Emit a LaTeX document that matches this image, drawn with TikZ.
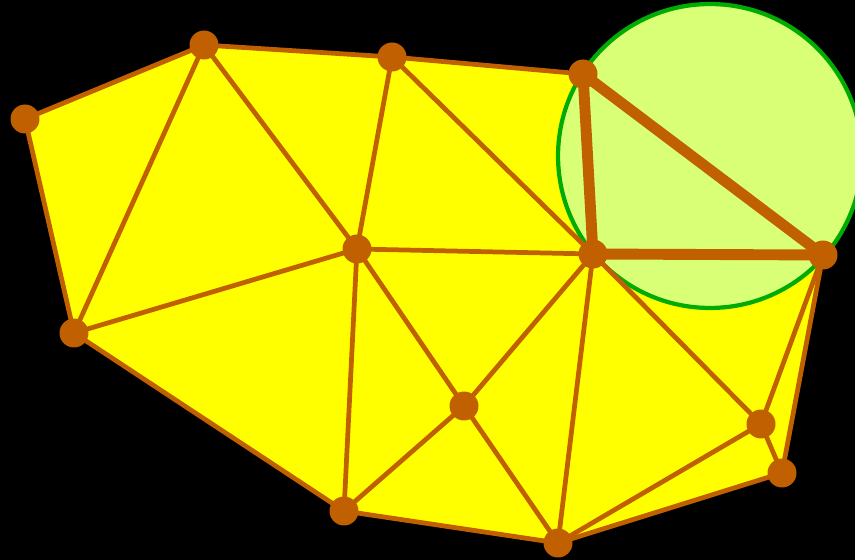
\documentclass[tikz,border=0pt]{standalone}
\usepackage{tikz}
\usepackage{xcolor}
\definecolor{edgebrown}{RGB}{192,96,0}
\definecolor{hullyellow}{RGB}{255,255,0}
\definecolor{circfill}{RGB}{217,255,119}
\definecolor{circline}{RGB}{0,172,0}

\begin{document}
\begin{tikzpicture}[x=0.02cm,y=-0.02cm,
edge/.style={draw=edgebrown,line width=2.7pt,line cap=round},
hot/.style={draw=edgebrown,line width=6.2pt,line cap=round},
dot/.style={circle,fill=edgebrown,inner sep=0pt,minimum size=0.58cm}
]
\fill[black] (0,0) rectangle (855,560);
\useasboundingbox (0,0) rectangle (855,560);
% points of the triangulation
\coordinate (pa) at (25,119);
\coordinate (pb) at (204,45);
\coordinate (pc) at (392,57);
\coordinate (pd) at (583,74);
\coordinate (pe) at (357,249);
\coordinate (pf) at (593,254);
\coordinate (pg) at (823,255);
\coordinate (ph) at (74,333);
\coordinate (pi) at (464,406);
\coordinate (pj) at (761,424);
\coordinate (pk) at (782,473);
\coordinate (pl) at (344,511);
\coordinate (pm) at (558,543);
\coordinate (cc) at (710,156);
% hull
\fill[hullyellow] (pa) -- (pb) -- (pc) -- (pd) -- (pg) -- (pk) -- (pm) -- (pl) -- (ph) -- cycle;
% circumcircle
\draw[circline,fill=circfill,line width=2.4pt] (cc) circle[radius=3.04cm];
% edges
\foreach \u/\v in {pa/pb,pb/pc,pc/pd,pa/ph,ph/pl,pl/pm,pm/pk,pk/pg,pb/ph,pb/pe,pc/pe,pc/pf,
  pe/ph,pe/pf,pe/pl,pe/pi,pi/pf,pi/pl,pi/pm,pf/pm,pf/pj,pj/pm,pj/pg,pj/pk}
  \draw[edge] (\u) -- (\v);
\draw[hot] (pd) -- (pf);
\draw[hot] (pf) -- (pg);
\draw[hot] (pd) -- (pg);
% vertices
\foreach \p in {pa,pb,pc,pd,pe,pf,pg,ph,pi,pj,pk,pl,pm}
  \node[dot] (n\p) at (\p) {};
\end{tikzpicture}
\end{document}
